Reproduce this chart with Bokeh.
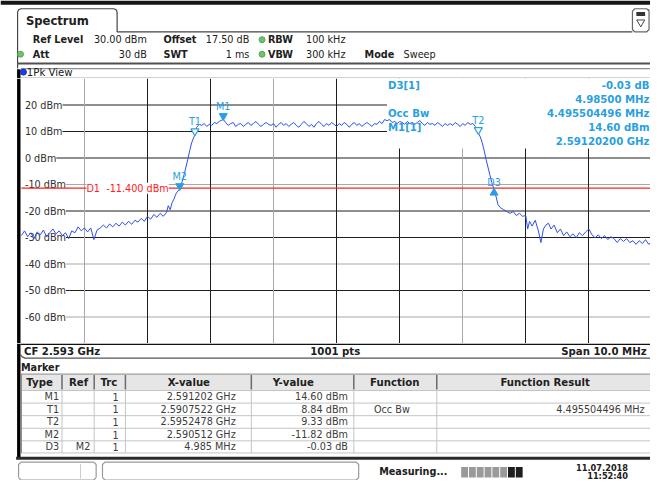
import numpy as np
from bokeh.plotting import figure
from bokeh.models import (Range1d, FixedTicker, Grid, Label, LabelSet,
                          BoxAnnotation, ColumnDataSource)
from bokeh.layouts import column
from bokeh.core.properties import value
from bokeh.embed import file_html
from bokeh.resources import INLINE

FONT = "DejaVu Sans"

# ---------------- data ----------------
center_ghz = 2.593
span_mhz = 10.0
ref_level_dbm = 30.0
bottom_level_dbm = -70.0
display_line_dbm = -11.4
sweep_points = 1001

# trace 1 (1Pk view), frequency offset from CF in MHz and level in dBm
trace_mhz = [
    -5.00, -4.95, -4.90, -4.85, -4.80, -4.75, -4.70, -4.65, -4.60, -4.55,
    -4.50, -4.45, -4.40, -4.35, -4.30, -4.25, -4.20, -4.15, -4.10, -4.05,
    -4.00, -3.95, -3.90, -3.85, -3.80, -3.75, -3.70, -3.65, -3.60, -3.55,
    -3.50, -3.45, -3.40, -3.35, -3.30, -3.25, -3.20, -3.15, -3.10, -3.05,
    -3.00, -2.95, -2.90, -2.85, -2.80, -2.75, -2.70, -2.67, -2.64, -2.61,
    -2.58, -2.55, -2.52, -2.488, -2.45, -2.42, -2.39, -2.36, -2.33, -2.30,
    -2.2478, -2.22, -2.18, -2.14, -2.10, -2.06, -2.02, -1.98, -1.94, -1.90,
    -1.86, -1.798, -1.76, -1.72, -1.68, -1.64, -1.60, -1.56, -1.52, -1.48,
    -1.44, -1.40, -1.36, -1.32, -1.28, -1.24, -1.20, -1.16, -1.12, -1.08,
    -1.04, -1.00, -0.96, -0.92, -0.88, -0.84, -0.80, -0.76, -0.72, -0.68,
    -0.64, -0.60, -0.56, -0.52, -0.48, -0.44, -0.40, -0.36, -0.32, -0.28,
    -0.24, -0.20, -0.16, -0.12, -0.08, -0.04, 0.00, 0.04, 0.08, 0.12,
    0.16, 0.20, 0.24, 0.28, 0.32, 0.36, 0.40, 0.44, 0.48, 0.52,
    0.56, 0.60, 0.64, 0.68, 0.72, 0.76, 0.80, 0.84, 0.88, 0.92,
    0.96, 1.00, 1.04, 1.08, 1.12, 1.16, 1.20, 1.24, 1.28, 1.32,
    1.36, 1.40, 1.44, 1.48, 1.52, 1.56, 1.60, 1.64, 1.68, 1.72,
    1.76, 1.80, 1.84, 1.88, 1.92, 1.96, 2.00, 2.04, 2.08, 2.12,
    2.16, 2.20, 2.2478, 2.28, 2.31, 2.34, 2.37, 2.40, 2.43, 2.46,
    2.497, 2.53, 2.56, 2.60, 2.65, 2.70, 2.75, 2.80, 2.85, 2.90,
    2.95, 3.00, 3.03, 3.06, 3.10, 3.15, 3.20, 3.24, 3.28, 3.32,
    3.36, 3.40, 3.45, 3.50, 3.55, 3.60, 3.65, 3.70, 3.75, 3.80,
    3.85, 3.90, 3.95, 4.00, 4.05, 4.10, 4.15, 4.20, 4.25, 4.30,
    4.35, 4.40, 4.45, 4.50, 4.55, 4.60, 4.65, 4.70, 4.75, 4.80,
    4.85, 4.90, 4.95, 5.00,
]
trace_dbm = [
    -29.3, -27.5, -29.7, -28.2, -30.4, -27.9, -29.0, -27.2, -29.7, -28.2,
    -26.8, -28.6, -27.5, -29.3, -28.2, -30.4, -27.5, -28.2, -26.0, -27.5,
    -26.4, -27.9, -26.4, -30.8, -27.2, -26.4, -25.3, -26.4, -24.9, -26.0,
    -24.6, -25.7, -24.2, -25.3, -23.9, -25.0, -23.5, -24.2, -22.8, -23.9,
    -22.0, -23.1, -21.3, -22.4, -20.9, -22.0, -20.6, -18.0, -19.5, -16.9,
    -15.5, -13.6, -12.5, -11.82, -8.9, -6.3, -3.4, -0.5, 2.8, 5.7,
    8.84, 11.6, 12.7, 12.3, 13.0, 11.9, 12.7, 12.3, 13.4, 13.0,
    13.8, 14.60, 13.4, 12.3, 13.0, 13.4, 11.9, 12.7, 13.0, 11.9,
    12.7, 13.4, 12.3, 13.0, 13.8, 12.7, 11.9, 12.7, 13.4, 12.7,
    12.3, 13.0, 11.6, 12.7, 13.4, 12.3, 13.0, 11.9, 12.7, 13.4,
    12.3, 11.6, 12.7, 13.8, 13.0, 11.9, 12.7, 11.6, 13.0, 13.8,
    12.7, 11.9, 13.0, 12.3, 13.4, 12.7, 11.9, 13.0, 12.3, 13.4,
    12.7, 11.6, 12.7, 13.4, 12.3, 13.0, 11.9, 12.7, 13.4, 12.7,
    11.9, 13.0, 12.7, 13.8, 13.0, 14.5, 14.1, 14.5, 13.4, 13.8,
    13.0, 13.8, 13.4, 12.7, 13.8, 13.0, 13.4, 12.7, 13.4, 14.1,
    13.0, 12.3, 13.4, 12.7, 13.0, 12.3, 13.4, 12.7, 11.9, 13.0,
    12.3, 13.0, 12.3, 13.4, 12.7, 11.9, 13.0, 12.3, 13.4, 12.7,
    13.0, 11.9, 9.33, 7.9, 5.7, 2.8, -0.5, -3.4, -6.3, -9.2,
    -11.85, -14.7, -17.6, -18.8, -19.5, -20.2, -20.9, -20.2, -21.7, -20.9,
    -22.0, -21.7, -26.8, -23.9, -25.7, -23.5, -27.5, -31.9, -26.8, -25.3,
    -24.6, -26.8, -25.3, -28.2, -26.8, -29.3, -27.9, -29.7, -28.6, -30.1,
    -28.2, -29.3, -27.9, -26.8, -29.0, -30.1, -29.0, -30.4, -29.3, -30.8,
    -29.7, -30.4, -31.9, -30.4, -31.5, -30.4, -31.9, -31.2, -32.6, -31.2,
    -32.3, -30.8, -32.6, -31.5,
]

y_ticks_dbm = [20, 10, 0, -10, -20, -30, -40, -50, -60]
y_tick_labels = ["20 dBm", "10 dBm", "0 dBm", "-10 dBm", "-20 dBm",
                 "-30 dBm", "-40 dBm", "-50 dBm", "-60 dBm"]
x_div_mhz = [-4, -3, -2, -1, 0, 1, 2, 3, 4]

# marker table
marker_names = ["M1", "T1", "T2", "M2", "D3"]
marker_refs = ["", "", "", "", "M2"]
marker_trc = ["1", "1", "1", "1", "1"]
marker_x_text = ["2.591202 GHz", "2.5907522 GHz", "2.5952478 GHz",
                 "2.590512 GHz", "4.985 MHz"]
marker_y_text = ["14.60 dBm", "8.84 dBm", "9.33 dBm", "-11.82 dBm", "-0.03 dB"]
marker_function = ["", "Occ Bw", "", "", ""]
marker_result = ["", "4.495504496 MHz", "", "", ""]
marker_freq_ghz = [2.591202, 2.5907522, 2.5952478, 2.590512]   # M1 T1 T2 M2
marker_level_dbm = [14.60, 8.84, 9.33, -11.82]
d3_delta_mhz = 4.985
d3_delta_db = -0.03

table_headers = ["Type", "Ref", "Trc", "X-value", "Y-value", "Function",
                 "Function Result"]

info_left = ["D3[1]", "", "Occ Bw", "M1[1]", ""]
info_right = ["-0.03 dB", "4.98500 MHz", "4.495504496 MHz", "14.60 dBm",
              "2.59120200 GHz"]

settings_row1 = [("Ref Level", "30.00 dBm"), ("Offset", "17.50 dB"), ("RBW", "100 kHz")]
settings_row2 = [("Att", "30 dB"), ("SWT", "1 ms"), ("VBW", "300 kHz"), ("Mode", "Sweep")]

# ---------------- styles / layout ----------------
# The layout is described in units of the 666x496 screen it imitates and
# scaled into a 650x480 canvas.
REF_W, REF_H = 666.0, 496.0
W, H = 650, 480
SX, SY = W / REF_W, H / REF_H
REF_PLOT_TOP, REF_PLOT_BOTTOM = 80.6, 354.4
REF_PLOT_LEFT = 21.4
REF_PX_PER_MHZ = 64.6
REF_PX_PER_DB = (REF_PLOT_BOTTOM - REF_PLOT_TOP) / (ref_level_dbm - bottom_level_dbm)
H_HEAD = 78
H_SPEC = 265
H_TAB = H - H_HEAD - H_SPEC

TRACE_BLUE = "#2f4ff0"
MK = "#2a9fe0"
RED = "#ff2020"
GRID_DARK = "#1e1e1e"
GRID_LIGHT = "#a8a8a8"
x_light = [-4, -1, 2]
y_light = [-10, -40, -60]
TXT = "#202020"


def fs(px):
    return f"{px * SY:.2f}px"


def base_fig(h, xr, yr):
    p = figure(width=W, height=h, x_range=xr, y_range=yr,
               x_axis_location=None, y_axis_location=None,
               toolbar_location=None, output_backend="svg", min_border=0,
               outline_line_color=None, background_fill_color="white",
               border_fill_color="white")
    p.xgrid.visible = False
    p.ygrid.visible = False
    return p


def put_text(p, xs, ys, texts, size=10, bold=False, align="left",
             color=TXT):
    p.text(x=xs, y=ys, text=texts, text_font=value(FONT),
           text_font_size=value(fs(size)),
           text_font_style="bold" if bold else "normal",
           text_align=align, text_baseline="middle", text_color=color)


# ================= header =================
ph = base_fig(H_HEAD, Range1d(0, REF_W), Range1d(REF_PLOT_TOP, 0))
ph.quad(left=[0], right=[REF_W], top=[0], bottom=[4.5], fill_color="#151515",
        line_color=None)
# tab outline + panel left border
ph.line([17.5, 17.5, 18.5, 21, 116, 118.5, 119.5, 119.5, 647.5],
        [70, 12, 9.5, 8.5, 8.5, 9.5, 12, 32.5, 32.5],
        line_color="#444444", line_width=1.2)
# top right icon
ph.line([664, 664.5, 664.5, 662, 650, 647.5, 647.5, 650, 662, 664.5, 664.5],
        [9, 11, 30, 32.5, 32.5, 30, 11, 8.5, 8.5, 11, 12],
        line_color="#666666", line_width=1.2)
ph.quad(left=[651.5], right=[660.5], top=[12], bottom=[16],
        fill_color="#333333", line_color=None)
ph.scatter([656], [22.5], marker="inverted_triangle", size=8,
           fill_color="white", line_color="#444444")
put_text(ph, [26], [21], ["Spectrum"], size=12, bold=True)
# settings
r1y, r2y = 40.5, 55.5
lab_x = [33, 167, 274, 373]
val_right = [150, 255]
for i, (lab, val) in enumerate(settings_row1):
    put_text(ph, [lab_x[i]], [r1y], [lab], bold=True)
    if i < 2:
        put_text(ph, [val_right[i]], [r1y], [val], align="right")
    else:
        put_text(ph, [313], [r1y], [val])
for i, (lab, val) in enumerate(settings_row2):
    put_text(ph, [lab_x[i]], [r2y], [lab], bold=True)
    if i < 2:
        put_text(ph, [val_right[i]], [r2y], [val], align="right")
    elif i == 2:
        put_text(ph, [313], [r2y], [val])
    else:
        put_text(ph, [413], [r2y], [val])
ph.scatter([268, 20.5, 268], [r1y, r2y, r2y], marker="circle", size=6,
           fill_color="#6cc36c", line_color="#58a858")
ph.line([17, REF_W], [65, 65], line_color="#505050", line_width=2)
# 1Pk View bar
ph.line([21, REF_W], [70.5, 70.5], line_color="#707070", line_width=1)
ph.line([21, REF_W], [80.2, 80.2], line_color="#8c8c8c", line_width=1)
ph.quad(left=[17], right=[20.5], top=[71], bottom=[81], fill_color="black",
        line_color=None)
ph.scatter([23.5], [74], marker="circle", size=6, fill_color="#1f3fe0",
           line_color="#1030c0")
put_text(ph, [27], [74.5], ["1Pk View"], size=10.5)

# ================= spectrum =================
x0 = -span_mhz / 2 - REF_PLOT_LEFT / REF_PX_PER_MHZ
x1 = -span_mhz / 2 + (REF_W - REF_PLOT_LEFT) / REF_PX_PER_MHZ
ps = base_fig(H_SPEC, Range1d(x0, x1), Range1d(bottom_level_dbm, ref_level_dbm))

# horizontal level lines start at the left edge of the sweep
ny = len(y_ticks_dbm)
hgrid = ps.segment(x0=[-span_mhz / 2] * ny, y0=y_ticks_dbm, x1=[x1] * ny,
                   y1=y_ticks_dbm,
                   line_color=[GRID_LIGHT if t in y_light else GRID_DARK
                               for t in y_ticks_dbm],
                   line_width=1)
hgrid.level = "underlay"
for ticks, col in [([t for t in x_div_mhz if t not in x_light], GRID_DARK),
                   (x_light, GRID_LIGHT)]:
    ps.add_layout(Grid(dimension=0, ticker=FixedTicker(ticks=ticks),
                       grid_line_color=col, grid_line_width=1))

# white margin between the panel border and the level labels
ps.add_layout(BoxAnnotation(left=-10, right=25.2 * SX, left_units="screen",
                            right_units="screen", fill_color="white",
                            fill_alpha=1.0, line_color=None, level="underlay"))
# white panel behind the marker info
ps.add_layout(BoxAnnotation(left=396 * SX,
                            bottom=H_SPEC - (153 - REF_PLOT_TOP) * SY,
                            left_units="screen", bottom_units="screen",
                            fill_color="white", fill_alpha=1.0,
                            line_color=None, level="underlay"))
tick_src = ColumnDataSource(dict(x=[-span_mhz / 2] * ny,
                                 y=y_ticks_dbm, text=y_tick_labels))
ps.add_layout(LabelSet(x="x", y="y", text="text", source=tick_src,
                       x_offset=3.6 * SX, text_baseline="middle",
                       text_align="left",
                       text_font=value(FONT), text_font_size=value(fs(10)),
                       text_color="#303030", background_fill_color="white",
                       level="underlay"))

# display line D1
ps.line([-span_mhz / 2, span_mhz / 2], [display_line_dbm, display_line_dbm],
        line_color=RED, line_width=1.3)
ps.add_layout(Label(x=-4, y=display_line_dbm, x_offset=2 * SX,
                    text=f"D1\u00a0 {display_line_dbm:.3f} dBm",
                    text_font=FONT, text_font_size=fs(10), text_color=RED,
                    text_baseline="middle", background_fill_color="white"))

# trace
ps.line(trace_mhz, trace_dbm, line_color=TRACE_BLUE, line_width=1)

# markers
mk_f = [(g - center_ghz) * 1000 for g in marker_freq_ghz]
mk_l = list(marker_level_dbm)
mk_f.append(mk_f[3] + d3_delta_mhz)
mk_l.append(mk_l[3] + d3_delta_db)
shift = 3.5 / REF_PX_PER_DB
filled_dn = [0, 3]
hollow_dn = [1, 2]
ps.scatter([mk_f[i] for i in filled_dn], [mk_l[i] + shift for i in filled_dn],
           marker="inverted_triangle", size=8, fill_color=MK, line_color=MK)
ps.scatter([mk_f[i] for i in hollow_dn], [mk_l[i] + shift for i in hollow_dn],
           marker="inverted_triangle", size=8, fill_color="white",
           line_color=MK, line_width=1.2)
ps.scatter([mk_f[4]], [mk_l[4] - shift], marker="triangle", size=8,
           fill_color=MK, line_color=MK)
ps.text(x=mk_f, y=mk_l, text=marker_names,
        y_offset=[-13 * SY, -13 * SY, -13 * SY, -13 * SY, -7 * SY],
        text_align="center", text_baseline="middle", text_font=value(FONT),
        text_font_size=value(fs(10)), text_color=MK)

# marker info (top right)
info_rows_px = [88, 102, 117, 131, 146]
for t_l, t_r, ypx in zip(info_left, info_right, info_rows_px):
    sy = H_SPEC - (ypx - REF_PLOT_TOP) * SY
    if t_l:
        ps.add_layout(Label(x=397 * SX, y=sy, x_units="screen", y_units="screen",
                            text=t_l, text_font=FONT, text_font_size=fs(10.5),
                            text_font_style="bold", text_color=MK,
                            text_baseline="middle", text_align="left"))
    ps.add_layout(Label(x=665 * SX, y=sy, x_units="screen", y_units="screen",
                        text=t_r, text_font=FONT, text_font_size=fs(10.5),
                        text_font_style="bold", text_color=MK,
                        text_baseline="middle", text_align="right"))

# dark panel border
ps.add_layout(BoxAnnotation(left=17 * SX, right=20.5 * SX, left_units="screen",
                            right_units="screen", fill_color="black",
                            fill_alpha=1.0, line_color=None))

# ================= bottom: CF bar + marker table + status =================
pt = base_fig(H_TAB, Range1d(0, REF_W), Range1d(REF_H, REF_PLOT_BOTTOM))
R = REF_W
pt.quad(left=[17], right=[20.5], top=[REF_PLOT_BOTTOM], bottom=[472],
        fill_color="black", line_color=None)
pt.line([20.5, R], [355.3, 355.3], line_color="#111111", line_width=1.5)
pt.line([20.5, 22, 25, R], [366, 368, 369.5, 369.5], line_color="#555555",
        line_width=1.2)
put_text(pt, [24], [362.5], [f"CF {center_ghz:.3f} GHz"], size=10.5, bold=True)
put_text(pt, [343], [362.5], [f"{sweep_points} pts"], size=10.5, bold=True,
         align="center")
put_text(pt, [662], [362.5], [f"Span {span_mhz:.1f} MHz"], size=10.5,
         bold=True, align="right")
put_text(pt, [21], [379], ["Marker"], bold=True)

col_sep = [63, 96, 128, 257, 362, 447]
row_edges = [403, 416, 429, 442, 455, 467.5]
hdr_top = 386
pt.quad(left=[21], right=[R], top=[hdr_top], bottom=[row_edges[0]],
        fill_color="#e6e6e6", line_color=None)
pt.segment(x0=[21] * len(row_edges), y0=row_edges, x1=[R] * len(row_edges),
           y1=row_edges, line_color="#c4c4c4", line_width=1)
pt.segment(x0=col_sep, y0=[row_edges[0]] * len(col_sep), x1=col_sep,
           y1=[row_edges[-1]] * len(col_sep), line_color="#c4c4c4", line_width=1)
pt.segment(x0=col_sep, y0=[hdr_top + 1] * len(col_sep), x1=col_sep,
           y1=[row_edges[0] - 1] * len(col_sep), line_color="#6a6a6a",
           line_width=1.5)
pt.line([21, R], [hdr_top, hdr_top], line_color="#8a8a8a", line_width=1)
pt.line([21.5, 21.5], [hdr_top, row_edges[-1]], line_color="#8a8a8a",
        line_width=1)
hdr_cx = [40, 80, 111, 193, 300, 404, 558]
put_text(pt, hdr_cx, [394.5] * len(hdr_cx), table_headers, size=10.5,
         bold=True, align="center")
row_cy = [(a + b) / 2 for a, b in zip(row_edges[:-1], row_edges[1:])]
n = len(marker_names)
put_text(pt, [60] * n, row_cy, marker_names, align="right", color="#3c3c3c")
put_text(pt, [92] * n, row_cy, marker_refs, align="right", color="#3c3c3c")
put_text(pt, [121] * n, row_cy, marker_trc, align="right", color="#3c3c3c")
put_text(pt, [241] * n, row_cy, marker_x_text, align="right", color="#3c3c3c")
put_text(pt, [356] * n, row_cy, marker_y_text, align="right", color="#3c3c3c")
put_text(pt, [401] * n, row_cy, marker_function, align="center", color="#3c3c3c")
put_text(pt, [660] * n, row_cy, marker_result, align="right", color="#3c3c3c")
pt.line([16, R], [473, 473], line_color="#2a2a2a", line_width=3)

# status bar
pt.line([18.5, 18.5, 21, 95.5, 98, 98], [493, 479.5, 477, 477, 479.5, 493],
        line_color="#999999", line_width=1.2)
pt.line([18.5, 21, 95.5, 98], [493, 495.5, 495.5, 493],
        line_color="#999999", line_width=1.2)
pt.line([82, 82], [479, 494], line_color="#cccccc", line_width=1)
pt.line([104.5, 104.5, 107, 364.5, 367, 367, 364.5, 107, 104.5],
        [493, 479.5, 477, 477, 479.5, 493, 495.5, 495.5, 493],
        line_color="#999999", line_width=1.2)
put_text(pt, [388], [487], ["Measuring..."], size=10, bold=True)
blk_l = [472 + 8 * i for i in range(8)]
blk_c = ["#9a9a9a"] * 6 + ["#1e1e1e"] * 2
pt.quad(left=blk_l, right=[b + 7 for b in blk_l], top=[482] * 8,
        bottom=[493] * 8, fill_color=blk_c, line_color=None)
put_text(pt, [643], [483], ["11.07.2018"], size=8.5, bold=True, align="right")
put_text(pt, [643], [491], ["11:52:40"], size=8.5, bold=True, align="right")

layout = column(ph, ps, pt, spacing=0)
open("out.html", "w").write(file_html(layout, INLINE))
